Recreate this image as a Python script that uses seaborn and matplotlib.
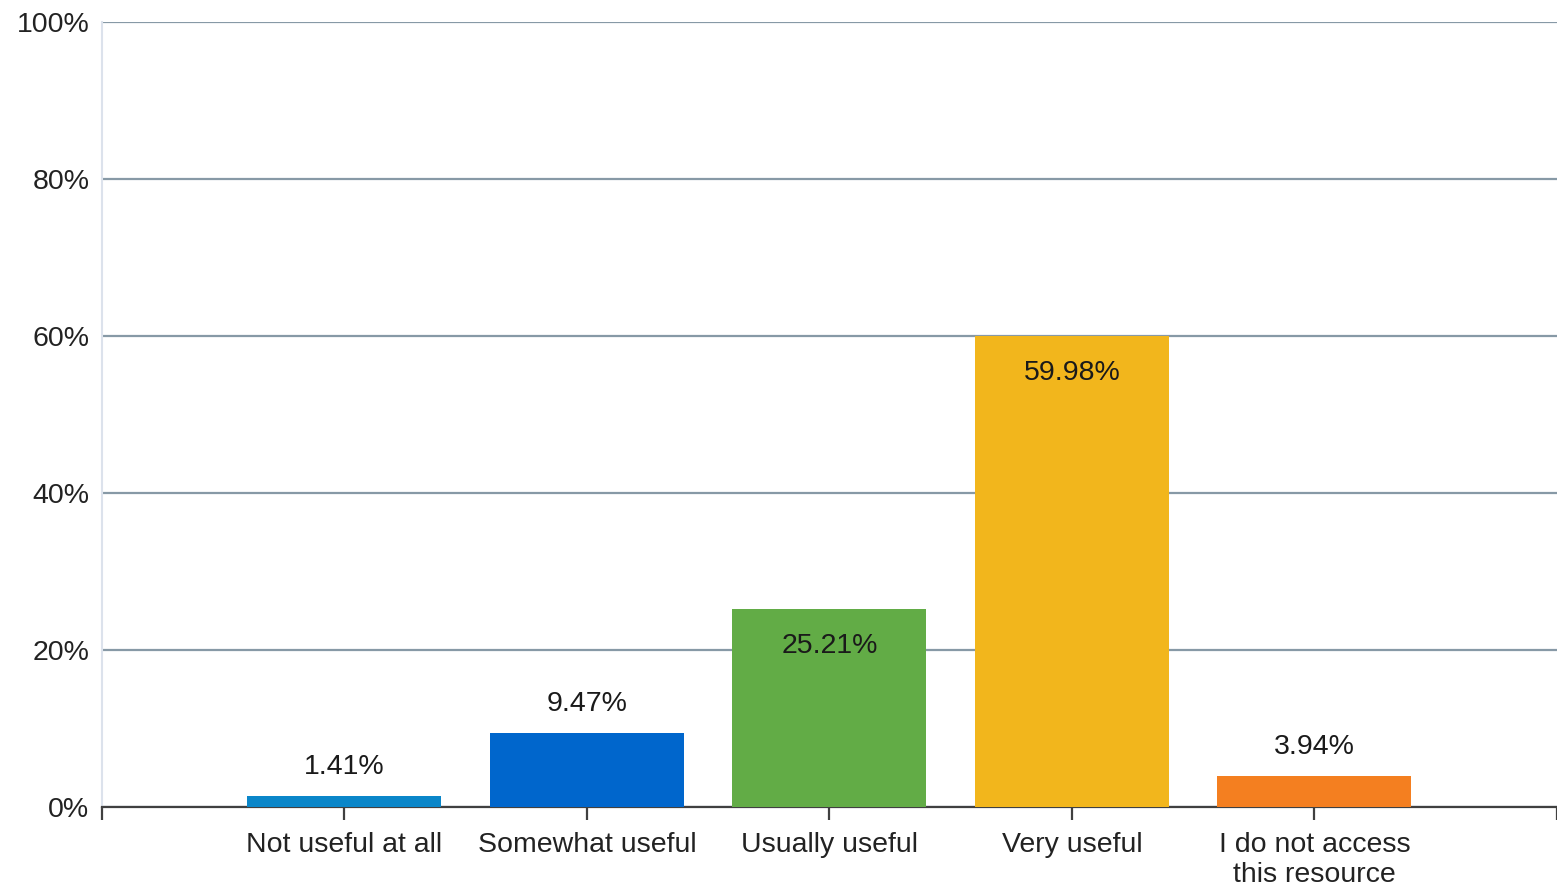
import matplotlib
matplotlib.use("Agg")
import matplotlib.pyplot as plt
import seaborn as sns
import pandas as pd

categories = ["Not useful at all", "Somewhat useful", "Usually useful",
              "Very useful", "I do not access\nthis resource"]
percentages = [1.41, 9.47, 25.21, 59.98, 3.94]
bar_colors = ["#0A86C9", "#0066CC", "#62AC46", "#F2B61C", "#F47F20"]
y_ticks = [0, 20, 40, 60, 80, 100]

sns.set_style("white")
plt.rcParams["font.family"] = ["Liberation Sans", "DejaVu Sans"]

df = pd.DataFrame({"cat": categories, "pct": percentages})

fig = plt.figure(figsize=(15.57, 8.88), dpi=100)
ax = fig.add_axes([0.0655, 0.0912, 0.9345, 0.884])

sns.barplot(data=df, x="cat", y="pct", hue="cat", palette=bar_colors,
            width=0.8, saturation=1, legend=False, linewidth=0, ax=ax, zorder=3)

ax.set_xlim(-1, 5)
ax.set_ylim(0, 100)
ax.set_yticks(y_ticks)
ax.set_yticklabels([f"{t}%" for t in y_ticks])
ax.set_xticks(range(-1, 6))
ax.set_xticklabels([""] + categories + [""])
ax.set_xlabel("")
ax.set_ylabel("")

ax.yaxis.grid(True, color="#8799A6", linewidth=1.6, zorder=0)
ax.set_axisbelow(True)
for side in ["top", "right"]:
    ax.spines[side].set_visible(False)
ax.spines["left"].set_color("#DCE2EC")
ax.spines["left"].set_linewidth(1.5)
ax.spines["bottom"].set_color("#404040")
ax.spines["bottom"].set_linewidth(1.6)

ax.tick_params(axis="y", length=6, width=1.2, color="#8799A6",
               labelsize=20.5, labelcolor="#222222", pad=3)
ax.tick_params(axis="x", length=9, width=1.6, color="#404040", direction="out",
               bottom=True, labelsize=20.5, labelcolor="#222222", pad=9)
for lbl in ax.get_xticklabels():
    lbl.set_linespacing(1.2)

for i, v in enumerate(percentages):
    if v > 20:
        ax.text(i, v - 3.0, f"{v:.2f}%", ha="center", va="top",
                fontsize=20.5, color="#1a1a1a", zorder=4)
    else:
        ax.text(i, v + 2.0, f"{v:.2f}%", ha="center", va="bottom",
                fontsize=20.5, color="#1a1a1a", zorder=4)

fig.savefig("out.png", dpi=100)
